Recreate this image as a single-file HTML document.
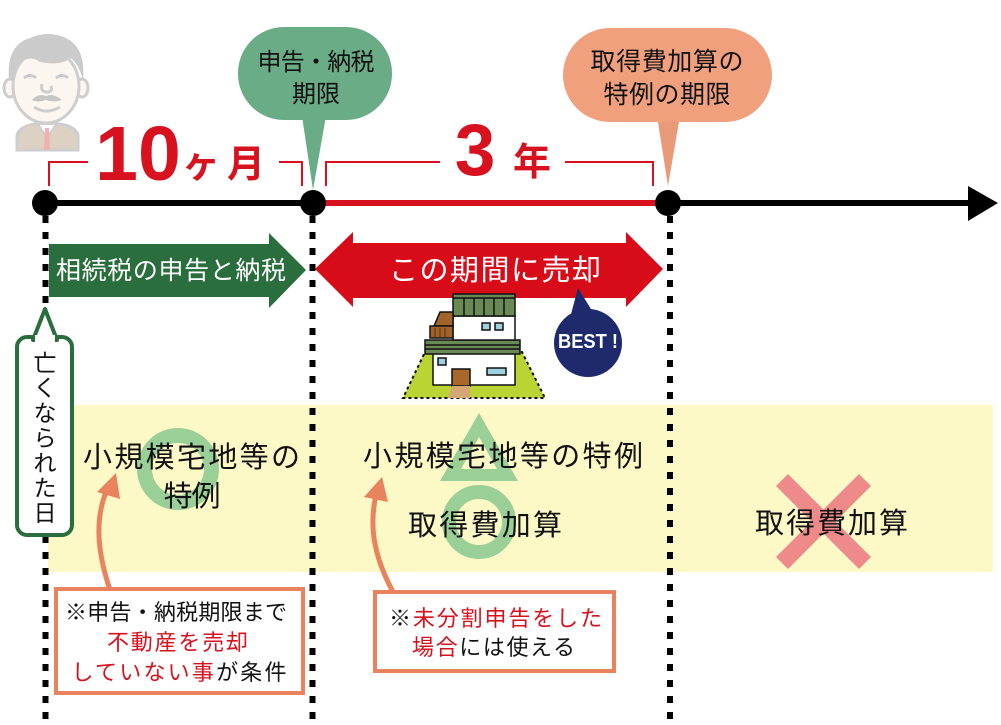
<!DOCTYPE html>
<html><head><meta charset="utf-8"><style>
html,body{margin:0;padding:0;background:#fff;width:1001px;height:725px;overflow:hidden}
svg{display:block}
text{font-family:"Liberation Sans","Noto Sans CJK JP",sans-serif}
</style></head><body>
<svg width="1001" height="725" viewBox="0 0 1001 725" xmlns="http://www.w3.org/2000/svg">
<!-- yellow band -->
<rect x="48" y="405" width="945" height="167" fill="#fdf9c6"/>

<!-- old man -->
<g opacity="0.85">
 <path d="M17,150 L17,135 Q20,126 35,124 L60,124 Q75,126 78,135 L78,150 Z" fill="#d8c9b9" stroke="#c6c6c6" stroke-width="3"/>
 <path d="M38,124 L47,138 L56,124 Z" fill="#fff" stroke="#c6c6c6" stroke-width="2"/>
 <path d="M45,128 L49,128 L50,150 L44,150 Z" fill="#f0a3a3"/>
 <ellipse cx="10" cy="88" rx="6" ry="9" fill="#fcf5ee" stroke="#c6c6c6" stroke-width="3"/>
 <ellipse cx="82" cy="88" rx="6" ry="9" fill="#fcf5ee" stroke="#c6c6c6" stroke-width="3"/>
 <ellipse cx="46" cy="86" rx="33" ry="37" fill="#fcf5ee" stroke="#c6c6c6" stroke-width="3"/>
 <path d="M9,80 Q6,45 30,38 Q48,30 66,38 Q86,48 83,80 Q78,62 70,58 Q62,66 40,62 Q30,55 22,62 Q14,68 13,80 Z" fill="#c3c3c3"/>
 <path d="M24,78 Q30,73 36,78 M56,78 Q62,73 68,78" stroke="#c3c3c3" stroke-width="3" fill="none"/>
 <path d="M42,84 Q40,92 47,92 Q53,92 51,86" stroke="#c6c6c6" stroke-width="3" fill="none"/>
 <path d="M32,100 Q38,93 46,96 Q54,93 62,100 Q54,103 46,100 Q38,103 32,100 Z" fill="#bdbdbd"/>
 <path d="M34,107 Q46,115 60,107" stroke="#c6c6c6" stroke-width="3" fill="none"/>
</g>

<!-- bubbles -->
<path d="M302,116 L326,116 L313,190 Z" fill="#6aac86"/>
<rect x="238" y="27" width="154" height="93" rx="46" fill="#6aac86"/>
<text x="316" y="70" font-size="24" text-anchor="middle" textLength="117" lengthAdjust="spacing" fill="#111">申告・納税</text>
<text x="316" y="102" font-size="24" text-anchor="middle" fill="#111">期限</text>

<path d="M657,116 L680,116 L668,186 Z" fill="#e99a78"/>
<rect x="563" y="28" width="209" height="94" rx="47" fill="#f0a07d"/>
<text x="667" y="70" font-size="25" text-anchor="middle" textLength="153" lengthAdjust="spacing" fill="#111">取得費加算の</text>
<text x="667" y="103" font-size="25" text-anchor="middle" textLength="127" lengthAdjust="spacing" fill="#111">特例の期限</text>

<!-- brackets & period labels -->
<g stroke="#d7111e" stroke-width="2" fill="none">
 <polyline points="49,186 49,162 88,162"/>
 <polyline points="279,162 302,162 302,186"/>
 <polyline points="326,186 326,162 440,162"/>
 <polyline points="565,162 653,162 653,186"/>
</g>
<text x="138" y="180" font-size="77" font-weight="bold" text-anchor="middle" fill="#d7111e" font-family="Liberation Sans, sans-serif">10</text>
<text x="201" y="177" font-size="38" font-weight="bold" text-anchor="middle" fill="#d7111e">ヶ</text>
<text x="246" y="177" font-size="38" font-weight="bold" text-anchor="middle" fill="#d7111e">月</text>
<text x="475" y="175" font-size="73" font-weight="bold" text-anchor="middle" fill="#d7111e" font-family="Liberation Sans, sans-serif">3</text>
<text x="532" y="175" font-size="38" font-weight="bold" text-anchor="middle" fill="#d7111e">年</text>

<!-- timeline -->
<rect x="45" y="200" width="925" height="6" fill="#000"/>
<rect x="313" y="200" width="355" height="6" fill="#d7111e"/>
<polygon points="968,186 998,203 968,221" fill="#000"/>

<!-- dotted lines -->
<g stroke="#000" stroke-width="6" stroke-dasharray="7 9">
 <line x1="45.5" y1="216" x2="45.5" y2="725"/>
 <line x1="312.5" y1="216" x2="312.5" y2="725"/>
 <line x1="670" y1="216" x2="670" y2="725"/>
</g>
<circle cx="45" cy="203" r="13" fill="#000"/>
<circle cx="313" cy="203" r="13" fill="#000"/>
<circle cx="668" cy="203" r="13" fill="#000"/>

<!-- green arrow -->
<polygon points="49,244 269,244 269,233 306,270 269,308 269,297 49,297" fill="#2b6e3d"/>
<text x="171" y="279" font-size="25" text-anchor="middle" textLength="230" lengthAdjust="spacing" fill="#fff">相続税の申告と納税</text>

<!-- red double arrow -->
<polygon points="315,269 353,232 353,243 626,243 626,232 663,269 626,307 626,298 353,298 353,307" fill="#d80c18"/>
<text x="495" y="280" font-size="29" text-anchor="middle" textLength="212" lengthAdjust="spacing" fill="#fff">この期間に売却</text>

<!-- house -->
<g stroke="#111" stroke-width="1.5">
 <polygon points="425,352 522,352 545,398 403,398" fill="#b9d433" stroke-dasharray="3 3" stroke-width="2"/>
 <rect x="433" y="353" width="82" height="32" fill="#fff"/>
 <rect x="425" y="340" width="95" height="14" fill="#6a8a55"/>
 <line x1="425" y1="345" x2="520" y2="345"/>
 <line x1="425" y1="349" x2="520" y2="349"/>
 <rect x="453" y="316" width="62" height="24" fill="#fff"/>
 <rect x="453" y="294" width="62" height="22" fill="#6a8a55"/>
 <line x1="453" y1="298" x2="515" y2="298"/>
 <line x1="464" y1="298" x2="464" y2="316"/><line x1="474" y1="298" x2="474" y2="316"/>
 <line x1="484" y1="298" x2="484" y2="316"/><line x1="494" y1="298" x2="494" y2="316"/>
 <line x1="504" y1="298" x2="504" y2="316"/>
 <polygon points="440,312 453,312 453,326 434,326" fill="#a0642a"/>
 <rect x="430" y="326" width="23" height="12" fill="#a0642a"/>
 <line x1="435" y1="328" x2="435" y2="337" stroke="#5a3510" stroke-width="1"/>
 <line x1="440" y1="328" x2="440" y2="337" stroke="#5a3510" stroke-width="1"/>
 <line x1="445" y1="328" x2="445" y2="337" stroke="#5a3510" stroke-width="1"/>
 <rect x="482" y="323" width="8" height="7" fill="#9fd0e0"/>
 <rect x="495" y="323" width="8" height="7" fill="#9fd0e0"/>
 <rect x="438" y="358" width="8" height="7" fill="#9fd0e0"/>
 <rect x="487" y="368" width="19" height="7" fill="#9fd0e0"/>
 <rect x="452" y="369" width="18" height="17" fill="#a8682c"/>
 <polygon points="452,386 470,386 470,398 448,398" fill="#d4a874" stroke="none"/>
</g>

<!-- BEST bubble -->
<polygon points="578,288 570,318 594,314" fill="#1e2a6b"/>
<circle cx="588" cy="343" r="34" fill="#1e2a6b"/>
<text x="588" y="348" font-size="20" font-weight="bold" text-anchor="middle" textLength="60" lengthAdjust="spacingAndGlyphs" fill="#fff" font-family="Liberation Sans, sans-serif">BEST !</text>

<!-- vertical box -->
<rect x="17" y="337" width="55" height="198" rx="10" fill="#fff" stroke="#2b6e3d" stroke-width="4"/>
<polygon points="45,309 33,340 57,340" fill="#fff" stroke="#2b6e3d" stroke-width="4" stroke-linejoin="round"/>
<rect x="35" y="335" width="20" height="8" fill="#fff"/>
<g font-size="23" text-anchor="middle" fill="#111">
 <text x="45" y="371">亡</text>
 <text x="45" y="396">く</text>
 <text x="45" y="421">な</text>
 <text x="45" y="446">ら</text>
 <text x="45" y="471">れ</text>
 <text x="45" y="496">た</text>
 <text x="45" y="521">日</text>
</g>

<!-- shapes in band -->
<circle cx="178" cy="469" r="33.5" fill="none" stroke="#9bcf98" stroke-width="15"/>
<polygon points="479,413 518,481 440,481" fill="#9bcf98"/>
<polygon points="479,437 497,469 461,469" fill="#fdf9c6"/>
<circle cx="479" cy="522" r="30" fill="none" stroke="#9bcf98" stroke-width="14"/>
<g stroke="#ee8a8a" stroke-width="17">
 <line x1="782" y1="480" x2="865" y2="563"/>
 <line x1="865" y1="480" x2="782" y2="563"/>
</g>

<!-- band text -->
<g font-size="29" text-anchor="middle" fill="#111">
 <text x="191.5" y="467" textLength="217" lengthAdjust="spacing">小規模宅地等の</text>
 <text x="192" y="506" textLength="57" lengthAdjust="spacing">特例</text>
 <text x="503" y="466" textLength="280" lengthAdjust="spacing">小規模宅地等の特例</text>
 <text x="485" y="535" textLength="154" lengthAdjust="spacing">取得費加算</text>
 <text x="831.5" y="533" textLength="153" lengthAdjust="spacing">取得費加算</text>
</g>

<!-- orange arrows -->
<g stroke="#e8835e" stroke-width="5" fill="none">
 <path d="M110,590 C100,560 93,525 106,492"/>
 <path d="M393,592 C376,560 368,530 376,495"/>
</g>
<polygon points="116,473 97,492 120,499" fill="#e8835e"/>
<polygon points="382,477 364,497 388,502" fill="#e8835e"/>

<!-- note boxes -->
<rect x="56" y="589" width="247" height="104" fill="#fff" stroke="#e8835e" stroke-width="4"/>
<g font-size="22" text-anchor="middle">
 <text x="176" y="620" textLength="222" lengthAdjust="spacing" fill="#111">※申告・納税期限まで</text>
 <text x="177.5" y="650" textLength="141" lengthAdjust="spacing" fill="#d7111e">不動産を売却</text>
 <text x="179" y="680" textLength="215" lengthAdjust="spacing"><tspan fill="#d7111e">していない事</tspan><tspan fill="#111">が条件</tspan></text>
</g>
<rect x="375" y="592" width="239" height="79" fill="#fff" stroke="#e8835e" stroke-width="4"/>
<g font-size="22" text-anchor="middle">
 <text x="495.5" y="626" textLength="213" lengthAdjust="spacing"><tspan fill="#111">※</tspan><tspan fill="#d7111e">未分割申告をした</tspan></text>
 <text x="493.5" y="655" textLength="163" lengthAdjust="spacing"><tspan fill="#d7111e">場合</tspan><tspan fill="#111">には使える</tspan></text>
</g>
</svg>
</body></html>
